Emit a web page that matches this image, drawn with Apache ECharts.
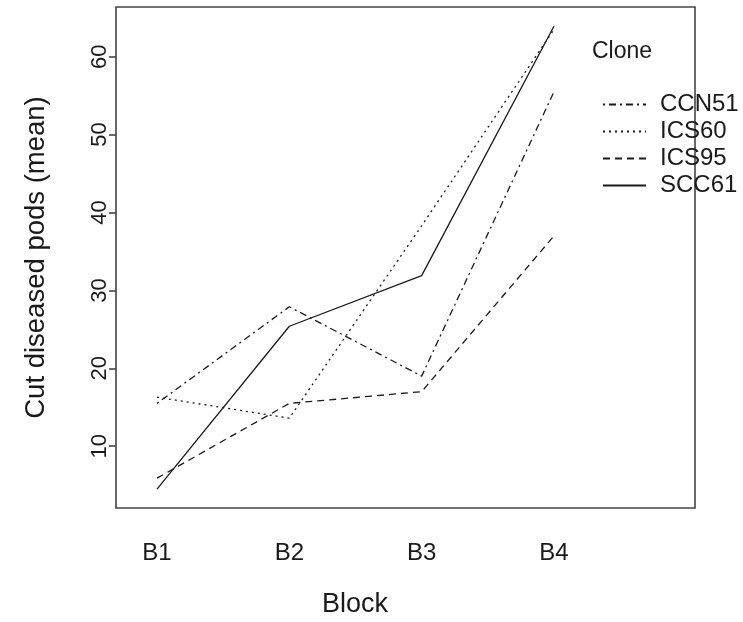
<!DOCTYPE html>
<html>
<head>
<meta charset="utf-8">
<script src="https://cdn.jsdelivr.net/npm/echarts@6/dist/echarts.min.js"></script>
<style>
html,body{margin:0;padding:0;background:#fff;}
#main{width:743px;height:622px;}
</style>
</head>
<body>
<div id="main"></div>
<script>
var blocks = ['B1', 'B2', 'B3', 'B4'];
var blockPos = [1, 2, 3, 4];
var yTicks = [10, 20, 30, 40, 50, 60];
var cloneNames = ['CCN51', 'ICS60', 'ICS95', 'SCC61'];
var CCN51 = [15.5, 27.9, 19.0, 55.5];
var ICS60 = [16.3, 13.6, 38.3, 63.5];
var ICS95 = [5.9, 15.5, 17.0, 37.0];
var SCC61 = [4.5, 25.4, 31.9, 63.9];

var seriesValues = [CCN51, ICS60, ICS95, SCC61];
var dashTypes = [[2, 4, 7, 4], [2, 4], [7, 5], 'solid'];
var FONT = 'Liberation Sans, Arial, sans-serif';
var INK = '#1a1a1a';

var chart = echarts.init(document.getElementById('main'), null, {renderer: 'canvas'});
var series = cloneNames.map(function (name, i) {
  return {
    name: name,
    type: 'line',
    symbol: 'none',
    silent: true,
    animation: false,
    data: seriesValues[i].map(function (v, j) { return [blockPos[j], v]; }),
    lineStyle: {color: INK, width: 1.3, type: dashTypes[i]},
    itemStyle: {color: INK}
  };
});

chart.setOption({
  animation: false,
  backgroundColor: '#fff',
  grid: {left: 116, top: 7, right: 48, bottom: 114, show: true, borderColor: '#444', borderWidth: 1.6, containLabel: false},
  xAxis: {
    type: 'value', min: 0.69, max: 5.066,
    axisLine: {show: false}, axisTick: {show: false}, splitLine: {show: false},
    axisLabel: {
      customValues: blockPos,
      formatter: function (v) { return blocks[Math.round(v) - 1]; },
      fontFamily: FONT, fontSize: 24, color: INK, margin: 33
    }
  },
  yAxis: {
    type: 'value', min: 2.07, max: 66.38,
    name: 'Cut diseased pods (mean)', nameLocation: 'middle', nameGap: 66,
    nameTextStyle: {fontFamily: FONT, fontSize: 27.5, color: INK},
    axisLine: {show: false},
    splitLine: {show: false},
    axisTick: {show: true, customValues: yTicks, length: 7, lineStyle: {color: '#444', width: 1.6}},
    axisLabel: {customValues: yTicks, rotate: 90, fontFamily: FONT, fontSize: 22, color: INK, margin: 5}
  },
  legend: {
    orient: 'vertical', left: 597, top: 86,
    itemWidth: 43, itemHeight: 14, itemGap: 0,
    data: cloneNames,
    selectedMode: false,
    itemStyle: {color: 'rgba(0,0,0,0)', borderWidth: 0, opacity: 0},
    textStyle: {fontFamily: FONT, fontSize: 24, color: INK, lineHeight: 27, padding: [0, 0, 0, 9]}
  },
  graphic: [
    {type: 'text', left: 592, top: 40, style: {text: 'Clone', font: '23px ' + FONT, fill: INK}},
    {type: 'text', left: 322, top: 591, style: {text: 'Block', font: '27px ' + FONT, fill: INK}}
  ],
  series: series
});
</script>
</body>
</html>
